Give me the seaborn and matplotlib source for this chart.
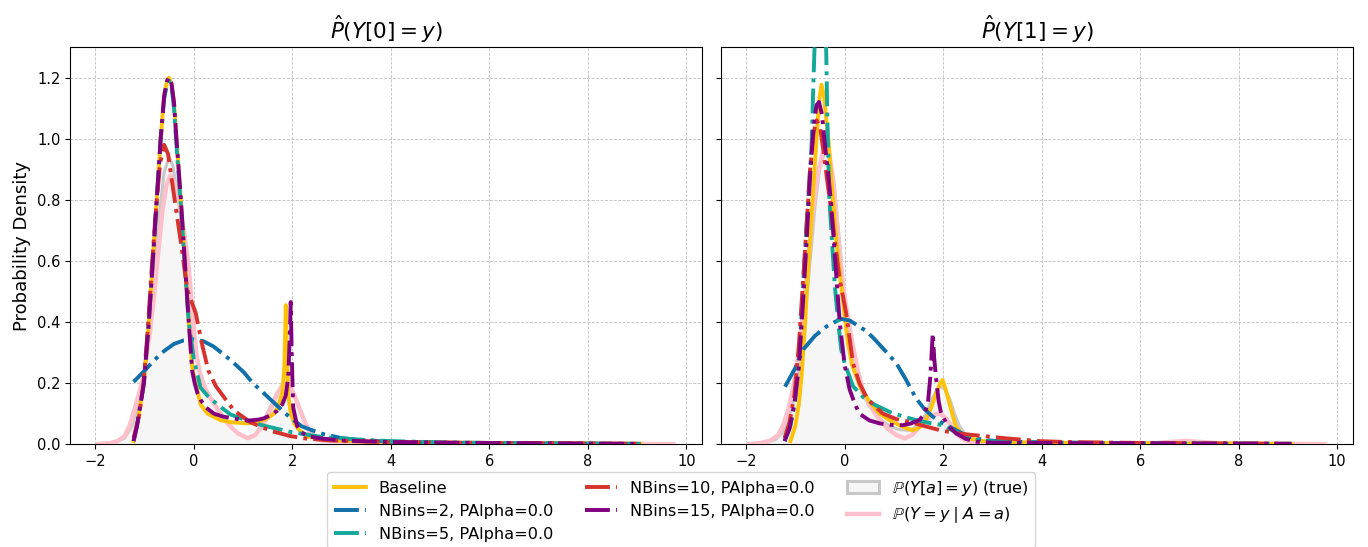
import matplotlib
matplotlib.use("Agg")
import matplotlib.pyplot as plt
from matplotlib.lines import Line2D
from matplotlib.patches import Patch
import seaborn as sns

# ---------------- Y[0] panel ----------------
true0_x = [-1.95, -1.6, -1.4, -1.25, -1.1, -1.0, -0.9, -0.8, -0.7, -0.6, -0.5, -0.42, -0.32, -0.2, -0.1, 0.0,
           0.1, 0.25, 0.4, 0.6, 0.8, 1.0, 1.12, 1.25, 1.4, 1.55, 1.7, 1.85, 1.95, 2.05, 2.15, 2.25, 2.4, 2.6,
           3.0, 4.0, 5.0, 6.0, 7.0, 8.0, 9.0, 9.74]
true0_y = [0.0, 0.005, 0.02, 0.06, 0.15, 0.24, 0.38, 0.56, 0.75, 0.89, 0.94, 0.91, 0.81, 0.67, 0.52, 0.36,
           0.25, 0.18, 0.14, 0.09, 0.05, 0.025, 0.018, 0.03, 0.07, 0.12, 0.17, 0.195, 0.19, 0.16, 0.12, 0.075,
           0.03, 0.012, 0.008, 0.006, 0.004, 0.003, 0.003, 0.002, 0.001, 0.0]

cond0_x = [-1.95, -1.7, -1.55, -1.41, -1.3, -1.21, -1.1, -1.01, -0.9, -0.8, -0.7, -0.63, -0.55, -0.47, -0.4,
           -0.3, -0.2, -0.1, -0.02, 0.05, 0.14, 0.27, 0.41, 0.6, 0.75, 0.9, 1.09, 1.25, 1.43, 1.58, 1.7, 1.83,
           1.93, 2.03, 2.14, 2.24, 2.34, 2.44, 2.6, 3.0, 4.0, 5.0, 6.0, 7.0, 8.0, 9.0, 9.74]
cond0_y = [0.0, 0.003, 0.01, 0.025, 0.06, 0.11, 0.17, 0.23, 0.35, 0.49, 0.66, 0.77, 0.85, 0.88, 0.86,
           0.80, 0.70, 0.58, 0.42, 0.30, 0.22, 0.17, 0.133, 0.085, 0.057, 0.035, 0.02, 0.03, 0.068, 0.12, 0.166,
           0.20, 0.195, 0.166, 0.12, 0.079, 0.045, 0.024, 0.012, 0.008, 0.006, 0.004, 0.003, 0.003, 0.002,
           0.001, 0.0]

base0_x = [-1.22, -1.15, -1.08, -1.01, -0.91, -0.83, -0.75, -0.67, -0.60, -0.54, -0.50, -0.45, -0.40, -0.35,
           -0.26, -0.18, -0.10, -0.03, 0.04, 0.14, 0.28, 0.55, 0.80, 1.09, 1.30, 1.49, 1.63, 1.72, 1.80, 1.84,
           1.87, 1.89, 1.92, 1.97, 2.05, 2.15, 2.31, 2.6, 3.0, 3.5, 4.0, 5.0, 6.0, 7.0, 8.0, 9.07]
base0_y = [0.01, 0.06, 0.13, 0.20, 0.40, 0.60, 0.80, 1.00, 1.14, 1.19, 1.20, 1.18, 1.12, 1.00,
           0.80, 0.60, 0.40, 0.25, 0.20, 0.13, 0.10, 0.078, 0.071, 0.068, 0.072, 0.084, 0.10, 0.125, 0.17, 0.25,
           0.455, 0.30, 0.16, 0.10, 0.065, 0.045, 0.025, 0.017, 0.011, 0.008, 0.007, 0.005, 0.004, 0.003,
           0.002, 0.001]

nb2_0_x = [-1.22, -1.0, -0.8, -0.6, -0.4, -0.2, 0.0, 0.2, 0.4, 0.6, 0.8, 1.02, 1.2, 1.43, 1.7, 1.97, 2.2,
           2.58, 3.0, 3.5, 4.0, 5.0, 6.0, 7.0, 8.0, 9.07]
nb2_0_y = [0.204, 0.24, 0.275, 0.305, 0.328, 0.34, 0.343, 0.337, 0.32, 0.295, 0.268, 0.235, 0.20, 0.166,
           0.125, 0.085, 0.058, 0.035, 0.02, 0.012, 0.008, 0.005, 0.003, 0.002, 0.0015, 0.001]

nb5_0_x = [-1.22, -1.15, -1.08, -1.01, -0.91, -0.83, -0.75, -0.67, -0.60, -0.54, -0.50, -0.45, -0.40, -0.35,
           -0.26, -0.18, -0.10, 0.0, 0.14, 0.30, 0.48, 0.75, 0.95, 1.20, 1.49, 1.97, 2.20, 2.58, 3.25, 4.0,
           5.0, 6.0, 7.0, 8.0, 9.07]
nb5_0_y = [0.01, 0.06, 0.13, 0.20, 0.40, 0.60, 0.80, 1.00, 1.13, 1.18, 1.19, 1.17, 1.10, 0.98,
           0.78, 0.58, 0.40, 0.28, 0.185, 0.155, 0.13, 0.097, 0.085, 0.07, 0.058, 0.04, 0.034, 0.024, 0.016,
           0.01, 0.006, 0.004, 0.003, 0.002, 0.001]

nb10_0_x = [-1.22, -1.10, -1.02, -0.93, -0.85, -0.76, -0.68, -0.60, -0.52, -0.44, -0.35, -0.25, -0.13, 0.04,
            0.18, 0.30, 0.45, 0.61, 0.82, 0.95, 1.15, 1.36, 1.60, 1.97, 2.30, 2.80, 3.5, 4.0, 5.0, 6.0, 7.0,
            8.0, 9.07]
nb10_0_y = [0.02, 0.10, 0.20, 0.38, 0.58, 0.78, 0.92, 0.98, 0.95, 0.86, 0.76, 0.65, 0.505, 0.43,
            0.32, 0.24, 0.19, 0.155, 0.11, 0.095, 0.072, 0.057, 0.042, 0.026, 0.018, 0.012, 0.009, 0.007,
            0.005, 0.004, 0.003, 0.002, 0.001]

nb15_0_x = [-1.22, -1.15, -1.08, -1.01, -0.91, -0.83, -0.75, -0.67, -0.60, -0.54, -0.50, -0.45, -0.40, -0.35,
            -0.26, -0.18, -0.10, -0.03, 0.02, 0.08, 0.14, 0.25, 0.41, 0.60, 0.82, 1.09, 1.30, 1.43, 1.60, 1.70,
            1.80, 1.87, 1.92, 1.95, 1.97, 1.99, 2.02, 2.10, 2.17, 2.35, 2.58, 3.0, 3.5, 4.0, 5.0, 6.0, 7.0,
            8.0, 9.07]
nb15_0_y = [0.01, 0.06, 0.13, 0.20, 0.40, 0.60, 0.80, 1.00, 1.14, 1.19, 1.20, 1.18, 1.12, 1.00,
            0.80, 0.60, 0.40, 0.24, 0.20, 0.165, 0.145, 0.12, 0.10, 0.09, 0.084, 0.077, 0.080, 0.085, 0.098,
            0.11, 0.13, 0.16, 0.22, 0.35, 0.465, 0.30, 0.12, 0.06, 0.04, 0.025, 0.019, 0.012, 0.009, 0.007,
            0.005, 0.004, 0.003, 0.002, 0.001]

# ---------------- Y[1] panel ----------------
true1_x = [-1.95, -1.6, -1.4, -1.25, -1.12, -1.0, -0.9, -0.8, -0.7, -0.6, -0.5, -0.4, -0.3, -0.2, -0.1, 0.0,
           0.1, 0.2, 0.35, 0.5, 0.7, 0.9, 1.1, 1.3, 1.5, 1.65, 1.78, 1.88, 1.95, 2.03, 2.13, 2.23, 2.33, 2.45,
           2.6, 2.8, 3.2, 4.0, 5.0, 6.0, 7.0, 8.0, 9.0, 9.74]
true1_y = [0.0, 0.005, 0.015, 0.04, 0.09, 0.17, 0.27, 0.42, 0.60, 0.78, 0.91, 0.96, 0.93, 0.83, 0.66, 0.47,
           0.33, 0.24, 0.17, 0.125, 0.085, 0.06, 0.048, 0.045, 0.06, 0.10, 0.15, 0.18, 0.19, 0.18, 0.15, 0.10,
           0.06, 0.03, 0.014, 0.007, 0.005, 0.004, 0.003, 0.003, 0.004, 0.002, 0.001, 0.0]

cond1_x = [-1.95, -1.7, -1.5, -1.35, -1.25, -1.15, -1.05, -0.95, -0.85, -0.75, -0.65, -0.55, -0.45, -0.38,
           -0.30, -0.22, -0.13, -0.03, 0.07, 0.17, 0.27, 0.37, 0.5, 0.71, 0.88, 1.05, 1.22, 1.37, 1.52, 1.66,
           1.79, 1.89, 1.98, 2.06, 2.16, 2.26, 2.4, 2.53, 2.8, 3.5, 4.5, 5.5, 6.3, 6.7, 6.92, 7.15, 7.5, 8.5,
           9.74]
cond1_y = [0.0, 0.004, 0.012, 0.03, 0.06, 0.11, 0.18, 0.28, 0.42, 0.58, 0.76, 0.88, 0.95, 0.97,
           0.94, 0.85, 0.67, 0.515, 0.41, 0.32, 0.24, 0.177, 0.13, 0.079, 0.05, 0.03, 0.019, 0.03, 0.057, 0.08,
           0.095, 0.10, 0.095, 0.084, 0.06, 0.035, 0.017, 0.008, 0.005, 0.004, 0.003, 0.003, 0.004, 0.008,
           0.011, 0.008, 0.004, 0.002, 0.0]

base1_x = [-1.10, -1.0, -0.93, -0.87, -0.80, -0.75, -0.70, -0.63, -0.57, -0.52, -0.47, -0.42, -0.37, -0.33,
           -0.25, -0.17, -0.07, 0.0, 0.07, 0.15, 0.31, 0.5, 0.71, 0.95, 1.18, 1.38, 1.52, 1.65, 1.76, 1.86,
           1.94, 1.99, 2.05, 2.13, 2.2, 2.26, 2.4, 2.53, 2.8, 3.2, 4.0, 5.0, 6.0, 7.0, 8.0, 9.07]
base1_y = [0.01, 0.06, 0.13, 0.23, 0.40, 0.55, 0.67, 0.85, 1.0, 1.12, 1.177, 1.14, 1.06, 1.0,
           0.83, 0.67, 0.52, 0.42, 0.33, 0.26, 0.19, 0.14, 0.10, 0.075, 0.057, 0.045, 0.055, 0.079, 0.12,
           0.166, 0.20, 0.21, 0.18, 0.133, 0.09, 0.057, 0.03, 0.019, 0.01, 0.007, 0.005, 0.004, 0.003, 0.002,
           0.002, 0.001]

nb2_1_x = [-1.21, -1.0, -0.84, -0.6, -0.37, -0.2, -0.07, 0.1, 0.3, 0.44, 0.57, 0.8, 1.05, 1.25, 1.45, 1.62,
           1.79, 1.95, 2.13, 2.33, 2.53, 2.8, 3.2, 4.0, 5.0, 6.0, 7.0, 8.0, 9.07]
nb2_1_y = [0.188, 0.25, 0.31, 0.355, 0.385, 0.40, 0.41, 0.405, 0.385, 0.37, 0.35, 0.31, 0.265, 0.21, 0.15,
           0.115, 0.09, 0.072, 0.057, 0.04, 0.024, 0.014, 0.009, 0.006, 0.004, 0.003, 0.002, 0.0015, 0.001]

nb5_1_x = [-1.22, -1.1, -1.0, -0.92, -0.85, -0.78, -0.72, -0.67, -0.64, -0.60, -0.55, -0.48, -0.42, -0.38,
           -0.35, -0.31, -0.27, -0.20, -0.13, -0.07, 0.0, 0.17, 0.37, 0.6, 0.91, 1.2, 1.45, 1.7, 1.99, 2.15,
           2.33, 2.5, 2.73, 3.0, 4.0, 5.0, 6.0, 7.0, 8.0, 9.07]
nb5_1_y = [0.01, 0.06, 0.15, 0.30, 0.50, 0.70, 0.85, 0.98, 1.15, 1.35, 1.60, 1.75, 1.60, 1.35,
           1.06, 0.80, 0.70, 0.52, 0.40, 0.31, 0.265, 0.19, 0.155, 0.13, 0.106, 0.09, 0.079, 0.07, 0.062,
           0.048, 0.035, 0.022, 0.013, 0.009, 0.006, 0.004, 0.003, 0.002, 0.002, 0.001]

nb10_1_x = [-1.22, -1.12, -1.02, -0.93, -0.85, -0.77, -0.70, -0.63, -0.57, -0.50, -0.43, -0.35, -0.27, -0.18,
            -0.10, 0.03, 0.17, 0.30, 0.44, 0.60, 0.78, 1.05, 1.32, 1.60, 1.93, 2.25, 2.60, 3.28, 3.96, 4.5,
            5.0, 6.0, 7.0, 8.0, 9.07]
nb10_1_y = [0.02, 0.07, 0.16, 0.32, 0.52, 0.72, 0.90, 1.02, 1.06, 1.04, 0.96, 0.86, 0.76, 0.64,
            0.54, 0.43, 0.265, 0.20, 0.155, 0.125, 0.10, 0.082, 0.073, 0.06, 0.046, 0.036, 0.03, 0.019, 0.01,
            0.007, 0.006, 0.004, 0.003, 0.002, 0.001]

nb15_1_x = [-1.22, -1.12, -1.02, -0.93, -0.85, -0.77, -0.70, -0.63, -0.57, -0.52, -0.46, -0.40, -0.33, -0.27,
            -0.20, -0.10, 0.0, 0.10, 0.20, 0.30, 0.50, 0.71, 0.95, 1.18, 1.35, 1.52, 1.62, 1.69, 1.74, 1.79,
            1.82, 1.86, 1.91, 1.96, 2.10, 2.27, 2.45, 2.67, 3.0, 4.0, 5.0, 6.0, 7.0, 8.0, 9.07]
nb15_1_y = [0.01, 0.05, 0.13, 0.25, 0.45, 0.67, 0.88, 1.04, 1.11, 1.12, 1.08, 0.98, 0.88, 0.78,
            0.62, 0.40, 0.26, 0.18, 0.135, 0.10, 0.078, 0.068, 0.063, 0.062, 0.068, 0.079, 0.10, 0.133, 0.22,
            0.363, 0.28, 0.21, 0.14, 0.10, 0.06, 0.035, 0.018, 0.008, 0.005, 0.004, 0.003, 0.003, 0.002,
            0.002, 0.001]

titles = [r"$\hat{P}(Y[0]=y)$", r"$\hat{P}(Y[1]=y)$"]
model_labels = ["Baseline", "NBins=2, PAlpha=0.0", "NBins=5, PAlpha=0.0",
                "NBins=10, PAlpha=0.0", "NBins=15, PAlpha=0.0"]
true_label = r"$\mathbb{P}(Y[a]=y)$ (true)"
cond_label = r"$\mathbb{P}(Y=y\mid A=a)$"

model_colors = ["#FFC20A", "#1170AA", "#14A899", "#D6332E", "#800080"]
model_styles = ["-", "-.", "-.", "-.", "-."]
LW = 2.8
TRUE_FACE, TRUE_EDGE = "#F6F6F6", "#C8C8C8"
PINK = "#FFC0CB"

panels = [
    (true0_x, true0_y, cond0_x, cond0_y,
     [(base0_x, base0_y), (nb2_0_x, nb2_0_y), (nb5_0_x, nb5_0_y), (nb10_0_x, nb10_0_y), (nb15_0_x, nb15_0_y)]),
    (true1_x, true1_y, cond1_x, cond1_y,
     [(base1_x, base1_y), (nb2_1_x, nb2_1_y), (nb5_1_x, nb5_1_y), (nb10_1_x, nb10_1_y), (nb15_1_x, nb15_1_y)]),
]

fig, axes = plt.subplots(1, 2, figsize=(13.68, 5.47), dpi=100, sharey=True)
fig.subplots_adjust(left=0.0512, right=0.989, top=0.914, bottom=0.188, wspace=0.03)

for ax, title, (tx, ty, cx, cy, models) in zip(axes, titles, panels):
    ax.fill_between(tx, ty, color=TRUE_FACE, lw=0, zorder=1)
    sns.lineplot(x=tx, y=ty, ax=ax, color=TRUE_EDGE, lw=2.2, zorder=2, estimator=None)
    sns.lineplot(x=cx, y=cy, ax=ax, color=PINK, lw=3.2, zorder=3, estimator=None)
    for i, ((mx, my), col, ls) in enumerate(zip(models, model_colors, model_styles)):
        sns.lineplot(x=mx, y=my, ax=ax, color=col, lw=LW, linestyle=ls, zorder=4 + i, estimator=None)
    ax.set_title(title, fontsize=15.5)
    ax.set_xlim(-2.51, 10.32)
    ax.set_ylim(0, 1.3)
    ax.set_xticks([-2, 0, 2, 4, 6, 8, 10])
    ax.set_yticks([0.0, 0.2, 0.4, 0.6, 0.8, 1.0, 1.2])
    ax.tick_params(labelsize=10.5)
    ax.grid(True, linestyle="--", linewidth=0.6, color="#b0b0b0", alpha=0.8)
    ax.set_axisbelow(True)
    ax.set_xlabel("")
    ax.set_ylabel("")

axes[0].set_ylabel("Probability Density", fontsize=13)

handles = [Line2D([0], [0], color=c, lw=LW, linestyle=s) for c, s in zip(model_colors, model_styles)]
handles.append(Patch(facecolor=TRUE_FACE, edgecolor=TRUE_EDGE, lw=2.2))
handles.append(Line2D([0], [0], color=PINK, lw=3.2))
labels = model_labels + [true_label, cond_label]

fig.legend(handles, labels, loc="upper center", bbox_to_anchor=(0.498, 0.137), ncol=3,
           fontsize=11.6, labelspacing=0.5, borderaxespad=0.0)

fig.savefig("out.png", dpi=100)
